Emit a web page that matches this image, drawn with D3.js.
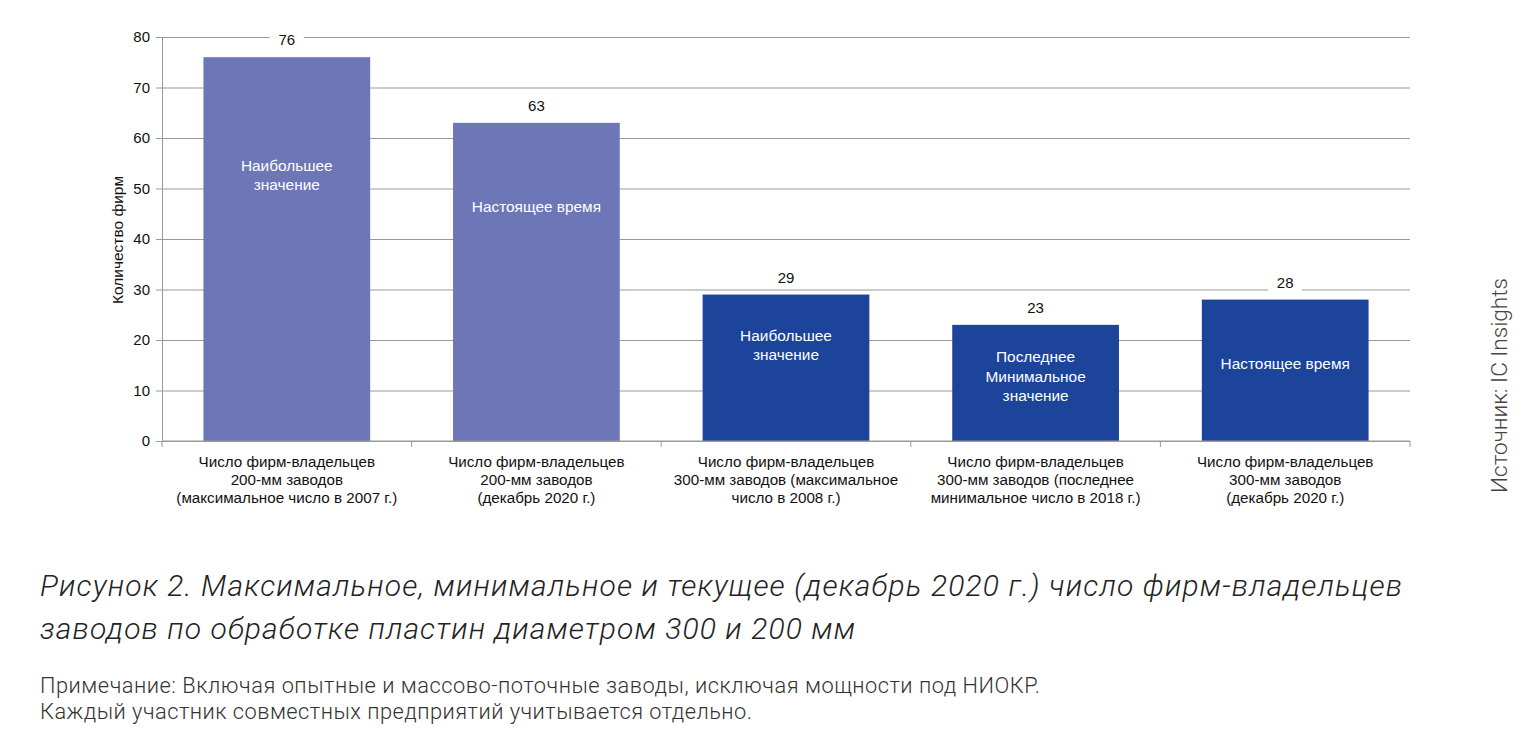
<!DOCTYPE html>
<html>
<head>
<meta charset="utf-8">
<script src="https://cdn.jsdelivr.net/npm/d3@7"></script>
<style>
  body { margin: 0; background: #fff; }
  svg { display: block; }
</style>
</head>
<body>
<svg id="chart"></svg>
<script>
var width = 1536;
var height = 745;

// data
var categories = [
  ["Число фирм-владельцев", "200-мм заводов", "(максимальное число в 2007 г.)"],
  ["Число фирм-владельцев", "200-мм заводов", "(декабрь 2020 г.)"],
  ["Число фирм-владельцев", "300-мм заводов (максимальное", "число в 2008 г.)"],
  ["Число фирм-владельцев", "300-мм заводов (последнее", "минимальное число в 2018 г.)"],
  ["Число фирм-владельцев", "300-мм заводов", "(декабрь 2020 г.)"]
];
var values = [76, 63, 29, 23, 28];
var groups = ["200", "200", "300", "300", "300"];
var innerLabels = [
  ["Наибольшее", "значение"],
  ["Настоящее время"],
  ["Наибольшее", "значение"],
  ["Последнее", "Минимальное", "значение"],
  ["Настоящее время"]
];
// level (in firms) where the inner label sits
var innerLabelAt = [52.7, 46.4, 19.0, 12.8, 15.4];
var yTicks = [0, 10, 20, 30, 40, 50, 60, 70, 80];

var margin = {top: 37, left: 162, right: 126, bottom: 304};

var svg = d3.select("#chart")
    .attr("width", width)
    .attr("height", height);

var xScale = d3.scaleBand()
    .domain(d3.range(values.length))
    .range([margin.left, width - margin.right])
    .paddingInner(0.332)
    .paddingOuter(0.166);

var yScale = d3.scaleLinear()
    .domain([0, 80])
    .range([height - margin.bottom, margin.top]);

var colorScale = d3.scaleOrdinal()
    .domain(["200", "300"])
    .range(["#6d77b8", "#1b449a"]);

var chartFont = "'Liberation Sans', Arial, sans-serif";

// gridlines + y axis
var yAxis = d3.axisLeft(yScale)
    .tickValues(yTicks)
    .tickSize(-(width - margin.left - margin.right))
    .tickSizeOuter(0)
    .tickPadding(12);

var yG = svg.append("g")
    .attr("transform", `translate(${margin.left},0)`)
    .call(yAxis);
yG.select(".domain").attr("stroke", "#999");
yG.selectAll(".tick line").attr("stroke", "#999");
yG.selectAll(".tick text")
    .attr("font-family", chartFont)
    .attr("font-size", 15)
    .attr("fill", "#111");
// small outer tick marks on the left
yG.selectAll(".tick").append("line")
    .attr("x1", -6).attr("x2", 0)
    .attr("stroke", "#999");

// bars
svg.selectAll("rect.bar")
    .data(values)
    .enter()
    .append("rect")
    .attr("class", "bar")
    .attr("x", (d, i) => xScale(i))
    .attr("y", d => yScale(d))
    .attr("width", xScale.bandwidth())
    .attr("height", d => yScale(0) - yScale(d))
    .attr("fill", (d, i) => colorScale(groups[i]));

// bottom axis line with ticks between categories
var step = xScale.step();
var bottomY = yScale(0);
svg.append("line")
    .attr("x1", margin.left).attr("x2", width - margin.right)
    .attr("y1", bottomY).attr("y2", bottomY)
    .attr("stroke", "#999");
svg.selectAll("line.xtick")
    .data(d3.range(values.length + 1))
    .enter()
    .append("line")
    .attr("class", "xtick")
    .attr("x1", i => margin.left + i * step)
    .attr("x2", i => margin.left + i * step)
    .attr("y1", bottomY)
    .attr("y2", bottomY + 6)
    .attr("stroke", "#999");

// value labels with white backing (they cut the gridlines)
var valueG = svg.selectAll("g.value")
    .data(values)
    .enter()
    .append("g")
    .attr("class", "value")
    .attr("transform", (d, i) => `translate(${xScale(i) + xScale.bandwidth() / 2},${yScale(d) - 17})`);
valueG.append("rect")
    .attr("x", -17).attr("y", -9)
    .attr("width", 34).attr("height", 18)
    .attr("fill", "#fff");
valueG.append("text")
    .attr("text-anchor", "middle")
    .attr("dy", "0.35em")
    .attr("font-family", chartFont)
    .attr("font-size", 15)
    .attr("fill", "#111")
    .text(d => d);

// inner white labels
svg.selectAll("text.inner")
    .data(innerLabels)
    .enter()
    .append("text")
    .attr("class", "inner")
    .attr("text-anchor", "middle")
    .attr("font-family", chartFont)
    .attr("font-size", 15.4)
    .attr("fill", "#fff")
    .attr("transform", (d, i) => {
        var cy = yScale(innerLabelAt[i]) - (d.length - 1) * 19.5 / 2;
        return `translate(${xScale(i) + xScale.bandwidth() / 2},${cy})`;
    })
    .selectAll("tspan")
    .data(d => d)
    .enter()
    .append("tspan")
    .attr("x", 0)
    .attr("y", (d, j) => j * 19.5)
    .attr("dy", "0.35em")
    .text(d => d);

// category labels
svg.selectAll("text.cat")
    .data(categories)
    .enter()
    .append("text")
    .attr("class", "cat")
    .attr("text-anchor", "middle")
    .attr("font-family", chartFont)
    .attr("font-size", 15.2)
    .attr("fill", "#111")
    .attr("transform", (d, i) => `translate(${xScale(i) + xScale.bandwidth() / 2},${bottomY + 21})`)
    .selectAll("tspan")
    .data(d => d)
    .enter()
    .append("tspan")
    .attr("x", 0)
    .attr("y", (d, j) => j * 17.6)
    .attr("dy", "0.35em")
    .text(d => d);

// y axis title
svg.append("text")
    .attr("transform", "rotate(-90)")
    .attr("x", -240)
    .attr("y", 118)
    .attr("dy", "0.35em")
    .attr("text-anchor", "middle")
    .attr("font-family", chartFont)
    .attr("font-size", 15.5)
    .attr("fill", "#111")
    .text("Количество фирм");

// source, vertical on the right
svg.append("text")
    .attr("transform", "rotate(-90)")
    .attr("x", -385.5)
    .attr("y", 1499)
    .attr("dy", "0.35em")
    .attr("text-anchor", "middle")
    .attr("font-family", "Roboto, sans-serif")
    .attr("font-weight", 300)
    .attr("font-size", 22.6)
    .attr("fill", "#444")
    .text("Источник: IC Insights");

// caption
var caption = svg.append("text")
    .attr("font-family", "Roboto, sans-serif")
    .attr("font-weight", 300)
    .attr("font-style", "italic")
    .attr("font-size", 30)
    .attr("fill", "#222");
caption.append("tspan").attr("x", 40).attr("y", 596)
    .attr("textLength", 1362).attr("lengthAdjust", "spacing")
    .text("Рисунок 2. Максимальное, минимальное и текущее (декабрь 2020 г.) число фирм-владельцев");
caption.append("tspan").attr("x", 40).attr("y", 639)
    .attr("textLength", 815).attr("lengthAdjust", "spacing")
    .text("заводов по обработке пластин диаметром 300 и 200 мм");

var note = svg.append("text")
    .attr("font-family", "Roboto, sans-serif")
    .attr("font-weight", 300)
    .attr("font-size", 21.8)
    .attr("fill", "#333");
note.append("tspan").attr("x", 40).attr("y", 693)
    .attr("textLength", 1000).attr("lengthAdjust", "spacing")
    .text("Примечание: Включая опытные и массово-поточные заводы, исключая мощности под НИОКР.");
note.append("tspan").attr("x", 40).attr("y", 719)
    .attr("textLength", 712).attr("lengthAdjust", "spacing")
    .text("Каждый участник совместных предприятий учитывается отдельно.");
</script>
</body>
</html>
